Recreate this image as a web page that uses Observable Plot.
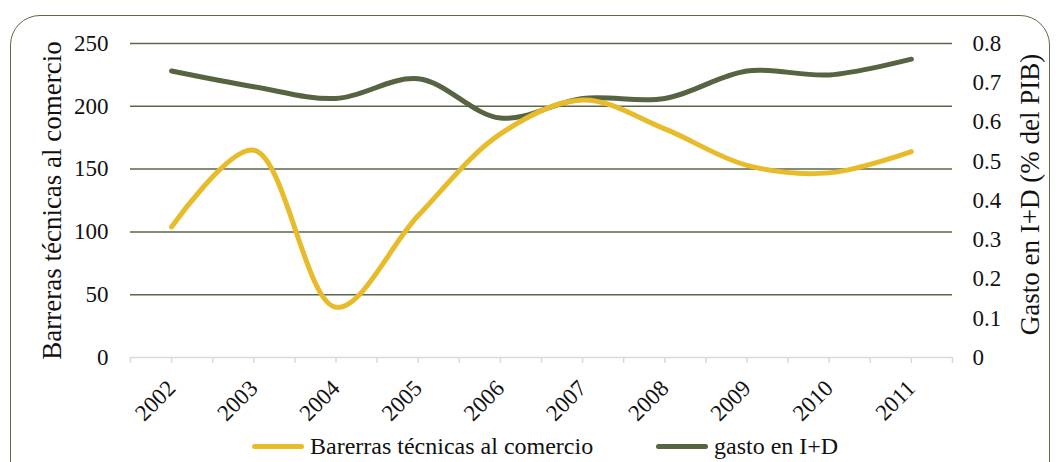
<!DOCTYPE html>
<html><head><meta charset="utf-8">
<script src="https://cdn.jsdelivr.net/npm/d3@7"></script>
<script src="https://cdn.jsdelivr.net/npm/@observablehq/plot@0.6"></script>
<style>
body{margin:0;overflow:hidden;background:#fff;font-family:"Liberation Serif","Times New Roman",serif;}
#wrap{position:relative;width:1056px;height:462px;overflow:hidden;}
#frame{position:absolute;left:10px;top:15px;width:1040px;height:480px;border:1.6px solid #5b6a47;border-radius:30px;box-sizing:border-box;}
#chart{position:absolute;left:0;top:0;}
#chart svg, #chart svg text{font-family:"Liberation Serif","Times New Roman",serif !important;}
#legend{position:absolute;left:0;top:432px;width:1056px;height:28px;font-size:24px;color:#111;}
.item{position:absolute;top:0;display:flex;align-items:center;height:28px;white-space:nowrap;}
.sw{display:inline-block;width:52px;height:5px;border-radius:3px;margin-right:6px;}
</style></head>
<body>
<div id="wrap"><div id="frame"></div><div id="chart"></div><div id="legend"></div></div>
<script>
const years = [2002,2003,2004,2005,2006,2007,2008,2009,2010,2011];
const barreras = [104,165,40,113,178,205,182,153,147,164];
const gasto = [0.73,0.69,0.66,0.71,0.61,0.66,0.66,0.73,0.72,0.76];
const leftTicks = [0,50,100,150,200,250];
const rightTicks = [0,0.1,0.2,0.3,0.4,0.5,0.6,0.7,0.8];
const leftTitle = "Barreras técnicas al comercio";
const rightTitle = "Gasto en I+D (% del PIB)";
const seriesNames = ["Barerras técnicas al comercio","gasto en I+D"];
const colors = ["#E8BB2A","#566441"];
const gridColor = "#5a6846";
const axisGray = "#d9d9d9";

const leftMax = 250, rightMax = 0.8;
const k = leftMax / rightMax;
const boundaries = years.map(y => y - 0.5).concat([years[years.length-1] + 0.5]);
const dataA = years.map((y,i) => ({year:y, v:barreras[i]}));
const dataB = years.map((y,i) => ({year:y, v:gasto[i]*k}));
const serif = '"Liberation Serif","Times New Roman",serif';

const chart = Plot.plot({
  width:1056, height:425,
  marginLeft:130, marginRight:104, marginTop:43, marginBottom:68,
  style:{fontFamily:serif, color:"#111", background:"transparent"},
  x:{type:"linear", domain:[years[0]-0.5, years[years.length-1]+0.5]},
  y:{domain:[0,leftMax]},
  marks:[
    Plot.gridY(leftTicks.filter(d=>d>0), {stroke:gridColor, strokeOpacity:1, strokeWidth:1.5}),
    Plot.ruleY([0], {stroke:axisGray, strokeWidth:1.5}),
    Plot.axisX(boundaries, {tickSize:6, stroke:axisGray, strokeWidth:1.5, tickFormat:()=>"", label:null}),
    Plot.axisX(years, {tickSize:6, stroke:axisGray, strokeWidth:1.5, tickFormat:()=>"", label:null}),
    Plot.text(years, {x:d=>d, frameAnchor:"bottom", text:d=>String(d), rotate:-45, textAnchor:"end", lineAnchor:"middle", dy:27, fontSize:23, fontFamily:serif, fill:"#111"}),
    Plot.axisY(leftTicks, {anchor:"left", tickSize:0, tickPadding:22, fontSize:23, fontFamily:serif, label:null}),
    Plot.axisY(rightTicks.map(d=>d*k), {anchor:"right", tickSize:0, tickPadding:20, fontSize:23, fontFamily:serif, label:null, tickFormat:d=>{const v=Math.round(d/k*10)/10; return v===0?"0":String(v);}}),
    Plot.text([leftTitle], {frameAnchor:"left", textAnchor:"middle", dx:-78, rotate:-90, fontSize:27, fontFamily:serif, text:d=>d}),
    Plot.text([rightTitle], {frameAnchor:"right", textAnchor:"middle", dx:78, dy:-6, rotate:-90, fontSize:27, fontFamily:serif, text:d=>d}),
    Plot.line(dataB, {x:"year", y:"v", stroke:colors[1], strokeWidth:5, curve:"catmull-rom"}),
    Plot.line(dataA, {x:"year", y:"v", stroke:colors[0], strokeWidth:5, curve:"catmull-rom"})
  ]
});
document.getElementById("chart").appendChild(chart);

const legend = document.getElementById("legend");
const lefts = [252, 656];
seriesNames.forEach((n,i)=>{
  const it = document.createElement("div");
  it.className="item"; it.style.left = lefts[i]+"px";
  const sw = document.createElement("span"); sw.className="sw"; sw.style.background=colors[i];
  it.appendChild(sw); it.appendChild(document.createTextNode(n));
  legend.appendChild(it);
});
</script>
</body></html>
